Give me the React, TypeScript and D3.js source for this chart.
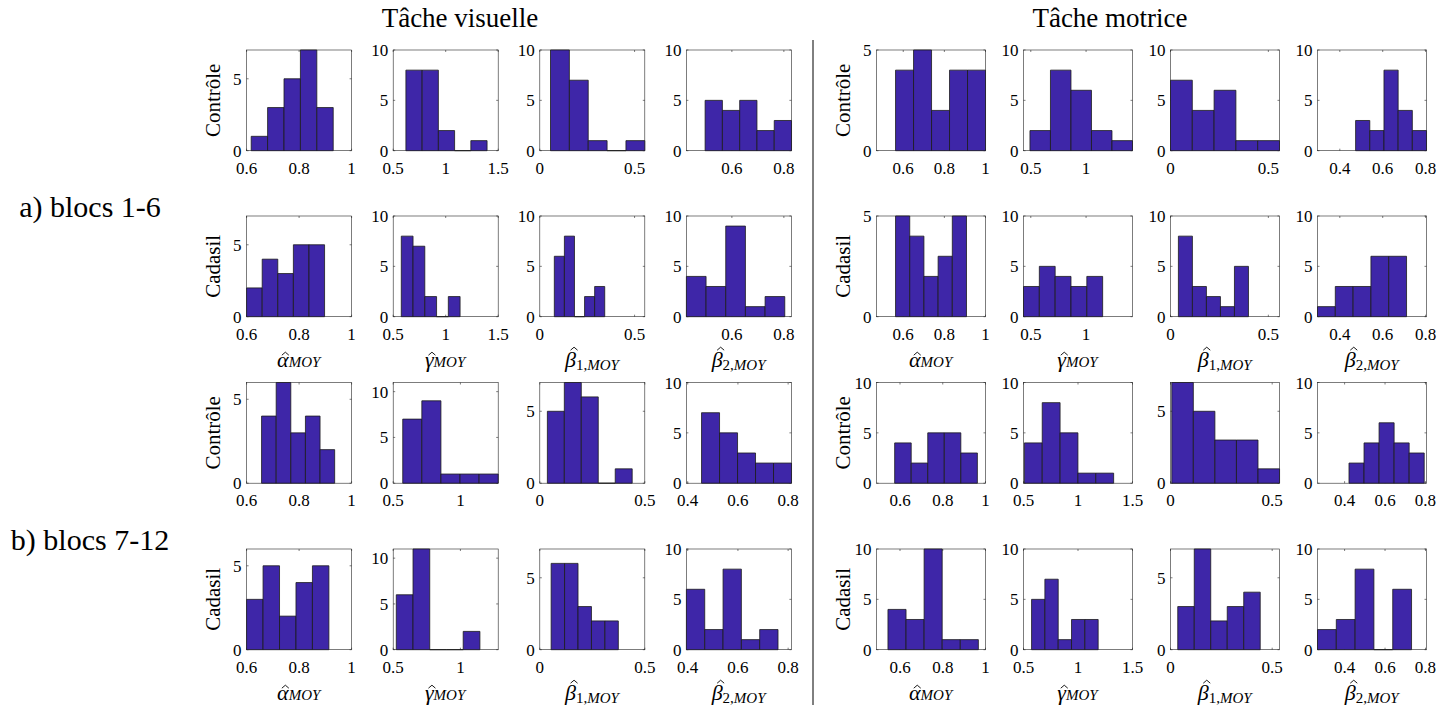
import React from 'react';
import * as d3 from 'd3';

// ---------- labels ----------
const taskTitles = ['Tâche visuelle', 'Tâche motrice'];
const blockLabels = ['a) blocs 1-6', 'b) blocs 7-12'];
const groupLabels = ['Contrôle', 'Cadasil'];
const paramSymbols = ['α', 'γ', 'β', 'β'];
const paramIndex = ['', '', '1,', '2,'];

// ---------- axes (8 columns: 4 visual + 4 motor), per block ----------
const xDomainA = [[0.6, 1], [0.5, 1.5], [0, 0.554], [0.425, 0.829], [0.47, 1.0], [0.434, 1.42], [0, 0.557], [0.296, 0.804]];
const xDomainB = [[0.6, 1], [0.5, 1.281], [0, 0.5], [0.3947, 0.813], [0.49, 1.0], [0.5, 1.5], [0, 0.536], [0.266, 0.805]];
const xTicksA = [[0.6, 0.8, 1], [0.5, 1, 1.5], [0, 0.5], [0.6, 0.8], [0.6, 0.8, 1], [0.5, 1], [0, 0.5], [0.4, 0.6, 0.8]];
const xTicksB = [[0.6, 0.8, 1], [0.5, 1], [0, 0.5], [0.4, 0.6, 0.8], [0.6, 0.8, 1], [0.5, 1, 1.5], [0, 0.5], [0.4, 0.6, 0.8]];
const yMaxA = [7, 10, 10, 10, 5, 10, 10, 10];
const yMaxB = [6, 11, 7, 10, 10, 10, 7, 10];

// ---------- histogram data ----------
const countsAControle = [[1, 3, 5, 7, 3], [8, 8, 2, 0, 1], [10, 7, 1, 0, 1], [5, 4, 5, 2, 3], [4, 5, 2, 4, 4], [2, 8, 6, 2, 1], [7, 4, 6, 1, 1], [3, 2, 8, 4, 2]];
const binStartAControle = [0.6175, 0.621, 0.0565, 0.497, 0.5626, 0.4924, 0, 0.4736];
const binWidthAControle = [0.0625, 0.1546, 0.0995, 0.0665, 0.0875, 0.1855, 0.1114, 0.0661];

const countsACadasil = [[2, 4, 3, 5, 5], [8, 7, 2, 0, 2], [6, 8, 0, 2, 3], [4, 3, 9, 1, 2], [5, 4, 2, 3, 5], [3, 5, 4, 3, 4], [8, 3, 2, 1, 5], [1, 3, 3, 6, 6]];
const binStartACadasil = [0.6, 0.577, 0.0766, 0.425, 0.5626, 0.434, 0.0404, 0.296];
const binWidthACadasil = [0.0594, 0.112, 0.0532, 0.0757, 0.069, 0.1432, 0.0716, 0.083];

const countsBControle = [[4, 6, 3, 4, 2], [7, 9, 1, 1, 1], [5, 7, 6, 0, 1], [7, 5, 3, 2, 2], [4, 2, 5, 5, 3], [4, 8, 5, 1, 1], [7, 5, 3, 3, 1], [2, 4, 6, 4, 3]];
const binStartBControle = [0.657, 0.571, 0.036, 0.455, 0.575, 0.508, 0.0063, 0.4217];
const binWidthBControle = [0.0557, 0.142, 0.0808, 0.0717, 0.0774, 0.1638, 0.106, 0.0744];

const countsBCadasil = [[3, 5, 2, 4, 5], [6, 11, 0, 0, 2], [6, 6, 3, 2, 2], [6, 2, 8, 1, 2], [4, 3, 10, 1, 1], [5, 7, 1, 3, 3], [3, 7, 2, 3, 4], [2, 3, 8, 0, 6]];
const binStartBCadasil = [0.6, 0.523, 0.054, 0.3947, 0.5436, 0.574, 0.0357, 0.266];
const binWidthBCadasil = [0.0627, 0.1244, 0.064, 0.073, 0.0846, 0.1222, 0.0811, 0.093];

// ---------- layout ----------
const W = 1453;
const H = 709;
const panelWs = [105, 109];
const panelH = 100.7;
const groupX0 = [246.6, 876.5];
const colSteps = [146.6, 147];
const rowTops = [50, 216, 382.5, 549];
const titleX = [460, 1110];
const FONT = '"Liberation Serif", "DejaVu Serif", serif';
const BAR_FILL = '#3e26a8';
const AXIS = '#262626';

const groupOf = (c: number) => Math.floor(c / 4);
const colLeft = (c: number) => groupX0[groupOf(c)] + (c % 4) * colSteps[groupOf(c)];
const colWidth = (c: number) => panelWs[groupOf(c)];

const rows = [
  { counts: countsAControle, start: binStartAControle, width: binWidthAControle, xd: xDomainA, xt: xTicksA, ym: yMaxA, group: 0 },
  { counts: countsACadasil, start: binStartACadasil, width: binWidthACadasil, xd: xDomainA, xt: xTicksA, ym: yMaxA, group: 1 },
  { counts: countsBControle, start: binStartBControle, width: binWidthBControle, xd: xDomainB, xt: xTicksB, ym: yMaxB, group: 0 },
  { counts: countsBCadasil, start: binStartBCadasil, width: binWidthBCadasil, xd: xDomainB, xt: xTicksB, ym: yMaxB, group: 1 },
];

const fmt = (v: number) => String(+v.toFixed(2));

function Panel({ x0, y0, pw, xDomain, yMax, xTicks, counts, start, width }: any) {
  const x = d3.scaleLinear().domain(xDomain).range([x0, x0 + pw]);
  const y = d3.scaleLinear().domain([0, yMax]).range([y0 + panelH, y0]);
  const yTicks = d3.range(0, yMax + 0.001, 5);
  const tl = 2;
  return (
    <g>
      <rect x={x0} y={y0} width={pw} height={panelH} fill="white" stroke={AXIS} strokeWidth={0.6} />
      {xTicks.map((t: number) => (
        <g key={'xt' + t}>
          <line x1={x(t)} x2={x(t)} y1={y0 + panelH} y2={y0 + panelH - tl} stroke={AXIS} strokeWidth={0.6} />
          <line x1={x(t)} x2={x(t)} y1={y0} y2={y0 + tl} stroke={AXIS} strokeWidth={0.6} />
          <text x={x(t)} y={y0 + panelH + 23} textAnchor="middle" fontSize={17} fontFamily={FONT} fill="#000">{fmt(t)}</text>
        </g>
      ))}
      {yTicks.map((t: number) => (
        <g key={'yt' + t}>
          <line x1={x0} x2={x0 + tl} y1={y(t)} y2={y(t)} stroke={AXIS} strokeWidth={0.6} />
          <line x1={x0 + pw} x2={x0 + pw - tl} y1={y(t)} y2={y(t)} stroke={AXIS} strokeWidth={0.6} />
          <text x={x0 - 5} y={y(t) + 6} textAnchor="end" fontSize={17} fontFamily={FONT} fill="#000">{fmt(t)}</text>
        </g>
      ))}
      {counts.map((c: number, i: number) => {
        const a = x(start + i * width);
        const b = x(start + (i + 1) * width);
        const p = d3.path();
        p.moveTo(a, y(0));
        p.lineTo(a, y(c));
        p.lineTo(b, y(c));
        p.lineTo(b, y(0));
        p.closePath();
        return <path key={i} d={p.toString()} fill={BAR_FILL} stroke="#1c1c1c" strokeWidth={0.8} />;
      })}
    </g>
  );
}

const letterWidth: Record<string, number> = { 'α': 12.5, 'γ': 10, 'β': 12 };

function MathLabel({ cx, y, k }: { cx: number; y: number; k: number }) {
  const sym = paramSymbols[k];
  const lw = letterWidth[sym];
  const subW = 31.5 + (paramIndex[k] ? 11 : 0);
  const x0 = cx - (lw + subW) / 2;
  const hatTop = y - (sym === 'β' ? 19.5 : 14.5);
  const hx = x0 + lw / 2 + (sym === 'β' ? 3 : 2);
  const hat = d3.path();
  hat.moveTo(hx - 3.5, hatTop + 3);
  hat.lineTo(hx, hatTop);
  hat.lineTo(hx + 3.5, hatTop + 3);
  return (
    <g>
      <path d={hat.toString()} fill="none" stroke="#000" strokeWidth={0.9} />
      <text x={x0} y={y} fontFamily={FONT} fill="#000" fontSize={22}>
        <tspan fontStyle="italic">{sym}</tspan>
        <tspan fontSize={15} dy={3}>{paramIndex[k]}</tspan>
        <tspan fontSize={15} fontStyle="italic">MOY</tspan>
      </text>
    </g>
  );
}

export default function App() {
  return (
    <svg width={W} height={H} style={{ position: 'absolute', left: 0, top: 0, background: 'white' }}>
      <rect x={0} y={0} width={W} height={H} fill="white" />
      {taskTitles.map((t, g) => (
        <text key={t} x={titleX[g]} y={27} textAnchor="middle" fontSize={27} fontFamily={FONT} fill="#000">{t}</text>
      ))}
      {blockLabels.map((t, b) => (
        <text key={t} x={90} y={(rowTops[2 * b] + rowTops[2 * b + 1] + panelH + 50) / 2 + 9} textAnchor="middle" fontSize={30} fontFamily={FONT} fill="#000">{t}</text>
      ))}
      <line x1={813} x2={813} y1={40} y2={705} stroke="#000" strokeWidth={1} />
      {rows.map((r, ri) => (
        <g key={ri}>
          {[0, 1].map((g) => (
            <text key={g} transform={`translate(${groupX0[g] - 27},${rowTops[ri] + panelH / 2}) rotate(-90)`} textAnchor="middle" fontSize={21} fontFamily={FONT} fill="#000">{groupLabels[r.group]}</text>
          ))}
          {r.counts.map((cts, c) => (
            <Panel key={c} x0={colLeft(c)} y0={rowTops[ri]} pw={colWidth(c)} xDomain={r.xd[c]} yMax={r.ym[c]} xTicks={r.xt[c]} counts={cts} start={r.start[c]} width={r.width[c]} />
          ))}
          {r.group === 1 && r.counts.map((_, c) => (
            <MathLabel key={'m' + c} cx={colLeft(c) + colWidth(c) / 2} y={rowTops[ri] + panelH + 50} k={c % 4} />
          ))}
        </g>
      ))}
    </svg>
  );
}
